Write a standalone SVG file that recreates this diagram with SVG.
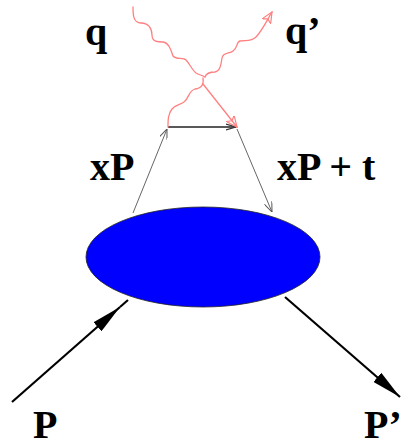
<svg xmlns="http://www.w3.org/2000/svg" width="402" height="447" viewBox="0 0 402 447">
<style>
.lbl{font-family:"Liberation Serif","Times New Roman",serif;font-weight:bold;font-size:40px;fill:#000}
.photon{fill:none;stroke:#ff8080;stroke-width:1.3;stroke-linecap:round;stroke-linejoin:round}
.thin{fill:none;stroke:#666;stroke-width:1}
.mom{fill:none;stroke:#000;stroke-width:2.2}
</style>
<defs>
<marker id="bigL" viewBox="0 0 30 12" refX="30" refY="6" markerWidth="30" markerHeight="12" markerUnits="userSpaceOnUse" orient="auto">
<path d="M0,0 L30,6 L0,12 Z" fill="#000"/>
</marker>
<marker id="grayV" viewBox="0 0 10 8" refX="10" refY="4" markerWidth="10" markerHeight="8" markerUnits="userSpaceOnUse" orient="auto">
<path d="M0,0 L10,4 L0,8" fill="none" stroke="#555" stroke-width="1"/>
</marker>
<marker id="blackV" viewBox="0 0 12 8" refX="10" refY="4" markerWidth="12" markerHeight="8" markerUnits="userSpaceOnUse" orient="auto">
<path d="M0,1 L10,4 L0,7" fill="none" stroke="#333" stroke-width="1.2"/>
</marker>
<marker id="redV" viewBox="0 0 12 10" refX="11" refY="5" markerWidth="12" markerHeight="10" markerUnits="userSpaceOnUse" orient="auto">
<path d="M0,0 L11,5 L0,10 L3,5 Z" fill="none" stroke="#ff8080" stroke-width="1.2"/>
</marker>
</defs>
<g id="connectors">
<path class="thin" d="M133,213 L167,129" marker-end="url(#grayV)"/>
<path class="thin" d="M237,129 L272,212" marker-end="url(#grayV)"/>
<path d="M168,127 L236,127" fill="none" stroke="#222" stroke-width="1.6" marker-end="url(#blackV)"/>
<path class="photon" d="M133,7 C133,14 133,23 141,23 C148,23 152,28 152,35 C152,42 158,42 163,42 C169,43 171,50 173,56 C176,60 183,57 186,60 C190,64 192,70 196,73 C199,75 202,75 205,77"/>
<path class="photon" d="M205,77 C206,74 210,72 215,72 C220,71 221,65 222,58 C223,52 230,54 233,51 C238,48 236,42 240,41 C246,40 251,42 256,37 C262,31 266,22 272,12" marker-end="url(#redV)"/>
<path class="photon" d="M203,78 C204,84 202,88 195,89 C188,91 189,99 184,102 C180,105 175,105 172,109 C168,114 168,120 168,127"/>
<path class="photon" d="M203,84 L237,127" marker-end="url(#redV)"/>
<path class="mom" d="M12,402 L120,307" marker-end="url(#bigL)"/>
<path class="mom" d="M120,307 L128,300"/>
<path class="mom" d="M285,297 L400,397" marker-end="url(#bigL)"/>
</g>
<g id="blob">
<ellipse cx="203" cy="257" rx="117" ry="50" fill="#0000ff" stroke="#222" stroke-width="0.8"/>
</g>
<g id="labels">
<text class="lbl" x="85" y="45">q</text>
<text class="lbl" x="285" y="44">q’</text>
<text class="lbl" x="90" y="180">xP</text>
<text class="lbl" x="277" y="180">xP + t</text>
<text class="lbl" x="33" y="438">P</text>
<text class="lbl" x="364" y="438">P’</text>
</g>
</svg>
